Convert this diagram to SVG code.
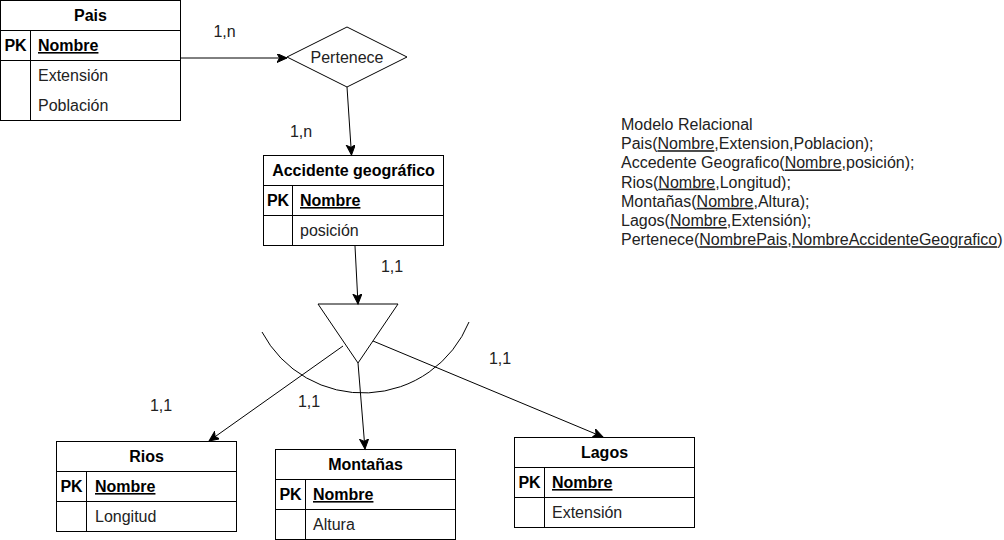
<svg xmlns="http://www.w3.org/2000/svg" width="1004" height="540" viewBox="0 0 1004 540">
<defs>
<marker id="arr" markerUnits="userSpaceOnUse" markerWidth="12" markerHeight="10" refX="10" refY="4.5" orient="auto">
<path d="M0,0 L10,4.5 L0,9 L2.5,4.5 Z" fill="#000" stroke="#000" stroke-width="1"/>
</marker>
<style>
.box{fill:#fff;stroke:#000;stroke-width:1}
.ln{stroke:#000;stroke-width:1;fill:none}
.t{font-family:"Liberation Sans",Arial,sans-serif;font-size:16px;fill:#000}
.b{font-weight:bold}
.c{text-anchor:middle}
.u{text-decoration:underline}
.n{fill:#222}
.con{stroke:#000;stroke-width:1;fill:none;marker-end:url(#arr)}
</style>
</defs>
<rect width="1004" height="540" fill="#fff"/>

<g id="shape-arc">
<path class="ln" d="M262,332 A114.4,114.4 0 0 0 469,322"/>
</g>

<g id="pais">
<rect class="box" x="0.5" y="0.5" width="180" height="120"/>
<line class="ln" x1="0.5" y1="30.5" x2="180.5" y2="30.5"/>
<line class="ln" x1="0.5" y1="60.5" x2="180.5" y2="60.5"/>
<line class="ln" x1="30.5" y1="30.5" x2="30.5" y2="120.5"/>
<text class="t b c" x="90.5" y="21">Pais</text>
<text class="t b c" x="15.5" y="51">PK</text>
<text class="t b u" x="38" y="51">Nombre</text>
<text class="t n" x="38" y="81">Extensión</text>
<text class="t n" x="38" y="111">Población</text>
</g>

<g id="pertenece">
<polygon class="box" points="347,27 407,57 347,87 287,57"/>
<text class="t n c" x="347" y="63">Pertenece</text>
</g>

<g id="accidente">
<rect class="box" x="263.5" y="155.5" width="180" height="90"/>
<line class="ln" x1="263.5" y1="185.5" x2="443.5" y2="185.5"/>
<line class="ln" x1="263.5" y1="215.5" x2="443.5" y2="215.5"/>
<line class="ln" x1="292.5" y1="185.5" x2="292.5" y2="245.5"/>
<text class="t b c" x="353.5" y="176">Accidente geográfico</text>
<text class="t b c" x="278" y="206">PK</text>
<text class="t b u" x="300" y="206">Nombre</text>
<text class="t n" x="300" y="236">posición</text>
</g>

<g id="isa">
<polygon class="box" points="318,304 398,304 358,363"/>
</g>

<g id="rios">
<rect class="box" x="56.5" y="441.5" width="180" height="90"/>
<line class="ln" x1="56.5" y1="471.5" x2="236.5" y2="471.5"/>
<line class="ln" x1="56.5" y1="501.5" x2="236.5" y2="501.5"/>
<line class="ln" x1="86.5" y1="471.5" x2="86.5" y2="531.5"/>
<text class="t b c" x="146.5" y="462">Rios</text>
<text class="t b c" x="71.5" y="492">PK</text>
<text class="t b u" x="95" y="492">Nombre</text>
<text class="t n" x="95" y="522">Longitud</text>
</g>

<g id="montanas">
<rect class="box" x="275.5" y="449.5" width="180" height="90"/>
<line class="ln" x1="275.5" y1="479.5" x2="455.5" y2="479.5"/>
<line class="ln" x1="275.5" y1="509.5" x2="455.5" y2="509.5"/>
<line class="ln" x1="305.5" y1="479.5" x2="305.5" y2="539.5"/>
<text class="t b c" x="365.5" y="470">Montañas</text>
<text class="t b c" x="290.5" y="500">PK</text>
<text class="t b u" x="313" y="500">Nombre</text>
<text class="t n" x="313" y="530">Altura</text>
</g>

<g id="lagos">
<rect class="box" x="514.5" y="437.5" width="180" height="90"/>
<line class="ln" x1="514.5" y1="467.5" x2="694.5" y2="467.5"/>
<line class="ln" x1="514.5" y1="497.5" x2="694.5" y2="497.5"/>
<line class="ln" x1="544.5" y1="467.5" x2="544.5" y2="527.5"/>
<text class="t b c" x="604.5" y="458">Lagos</text>
<text class="t b c" x="529.5" y="488">PK</text>
<text class="t b u" x="552" y="488">Nombre</text>
<text class="t n" x="552" y="518">Extensión</text>
</g>

<g id="connectors">
<line class="con" x1="181" y1="58" x2="287" y2="58"/>
<line class="con" x1="347" y1="87" x2="351.5" y2="155"/>
<line class="con" x1="355" y1="246" x2="358" y2="304"/>
<line class="con" x1="343" y1="346" x2="209" y2="441"/>
<line class="con" x1="358" y1="363" x2="365" y2="449"/>
<line class="con" x1="373" y1="341" x2="603" y2="437"/>
</g>

<g id="labels">
<text class="t n c" x="224.5" y="37">1,n</text>
<text class="t n c" x="301" y="137">1,n</text>
<text class="t n c" x="392" y="272">1,1</text>
<text class="t n c" x="500" y="364">1,1</text>
<text class="t n c" x="161" y="411">1,1</text>
<text class="t n c" x="309" y="407">1,1</text>
</g>

<g id="relational">
<text class="t n" x="621" y="130">Modelo Relacional</text>
<text class="t n" x="621" y="149.2">Pais(<tspan class="u">Nombre</tspan>,Extension,Poblacion);</text>
<text class="t n" x="621" y="168.4">Accedente Geografico(<tspan class="u">Nombre</tspan>,posición);</text>
<text class="t n" x="621" y="187.6">Rios(<tspan class="u">Nombre</tspan>,Longitud);</text>
<text class="t n" x="621" y="206.8">Montañas(<tspan class="u">Nombre</tspan>,Altura);</text>
<text class="t n" x="621" y="226">Lagos(<tspan class="u">Nombre</tspan>,Extensión);</text>
<text class="t n" x="621" y="245.2">Pertenece(<tspan class="u">NombrePais</tspan>,<tspan class="u">NombreAccidenteGeografico</tspan>)</text>
</g>
</svg>
